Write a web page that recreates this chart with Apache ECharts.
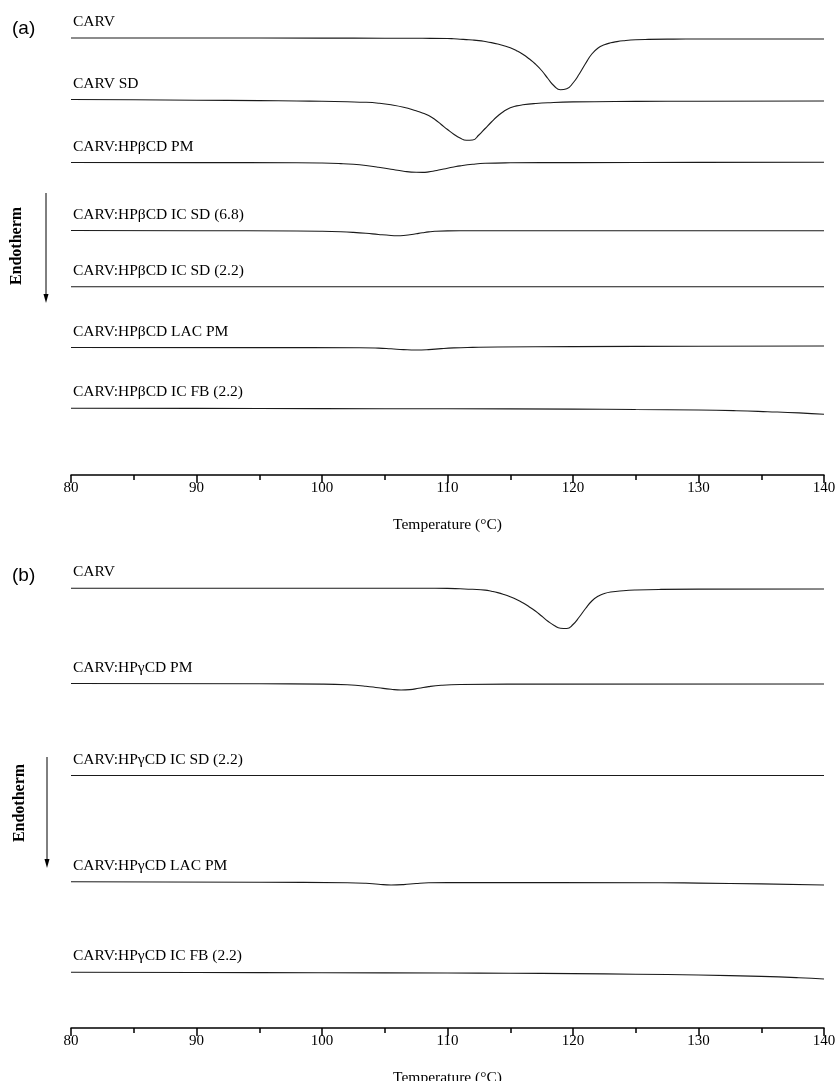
<!DOCTYPE html>
<html><head><meta charset="utf-8">
<script src="https://cdn.jsdelivr.net/npm/echarts@6/dist/echarts.min.js"></script>
<style>html,body{margin:0;padding:0;background:#fff}#c{width:837px;height:1081px}</style>
</head><body><div id="c"></div>
<script>
// ---- axis ----
const xMin = 80, xMax = 140, xStep = 10;
const xTitle = 'Temperature (°C)';

// ---- panel (a) ----
const namesA = ['CARV', 'CARV SD', 'CARV:HPβCD PM', 'CARV:HPβCD IC SD (6.8)', 'CARV:HPβCD IC SD (2.2)', 'CARV:HPβCD LAC PM', 'CARV:HPβCD IC FB (2.2)'];
const offsetsA = [43.7, 37.55, 31.25, 24.45, 18.83, 12.75, 6.67];

const tA_carv = [80, 90, 100, 105, 108, 110, 110.5, 111, 111.5, 112, 112.5, 113, 113.5, 114, 114.5, 115, 115.5, 116, 116.5, 117, 117.5, 118, 118.5, 119, 119.5, 120, 120.5, 121, 121.5, 122, 122.5, 123, 123.5, 124, 125, 126, 128, 130, 140];
const hfA_carv = [0, 0, -0.01, -0.02, -0.03, -0.05, -0.08, -0.12, -0.16, -0.2, -0.26, -0.35, -0.46, -0.6, -0.77, -0.98, -1.27, -1.63, -2.08, -2.6, -3.25, -4.05, -4.8, -5.18, -5.08, -4.5, -3.6, -2.55, -1.6, -1.0, -0.68, -0.48, -0.36, -0.28, -0.18, -0.14, -0.11, -0.1, -0.1];

const tA_sd = [80, 85, 90, 95, 98, 100, 102, 103.5, 104.5, 105.5, 106.5, 107.5, 108, 108.5, 109, 109.5, 110, 110.5, 111, 111.5, 112, 112.5, 113, 113.5, 114, 114.5, 115, 115.5, 116, 117, 118, 120, 125, 130, 140];
const hfA_sd = [0, -0.03, -0.07, -0.11, -0.15, -0.18, -0.23, -0.28, -0.37, -0.53, -0.77, -1.13, -1.34, -1.61, -2.0, -2.5, -3.0, -3.47, -3.85, -4.08, -4.05, -3.55, -2.9, -2.25, -1.65, -1.17, -0.83, -0.64, -0.53, -0.4, -0.32, -0.24, -0.19, -0.17, -0.15];

const tA_pm = [80, 90, 98, 100, 101.5, 102.5, 103.5, 104.5, 105.5, 106.5, 107.5, 108, 108.5, 109, 109.5, 110, 110.5, 111, 112, 113, 115, 120, 130, 140];
const hfA_pm = [0, -0.01, -0.02, -0.05, -0.11, -0.18, -0.3, -0.47, -0.68, -0.87, -0.98, -0.99, -0.94, -0.83, -0.7, -0.57, -0.45, -0.34, -0.18, -0.08, -0.03, -0.01, 0.01, 0.02];

const tA_icsd68 = [80, 90, 98, 100, 101.5, 102.5, 103.5, 104.5, 105.5, 106, 106.5, 107, 107.5, 108, 108.5, 109, 110, 112, 140];
const hfA_icsd68 = [0, -0.02, -0.05, -0.08, -0.13, -0.19, -0.28, -0.4, -0.5, -0.52, -0.5, -0.43, -0.33, -0.23, -0.14, -0.08, -0.04, -0.03, -0.02];

const tA_icsd22 = [80, 100, 120, 140];
const hfA_icsd22 = [0, 0, 0, 0];

const tA_lac = [80, 95, 103, 104.5, 105.5, 106.5, 107.5, 108.5, 109.5, 110.5, 112, 114, 120, 130, 140];
const hfA_lac = [0, -0.01, -0.02, -0.06, -0.13, -0.21, -0.25, -0.21, -0.11, -0.04, 0.01, 0.05, 0.09, 0.12, 0.15];

const tA_fb = [80, 90, 100, 110, 120, 125, 130, 133, 135.5, 138, 140];
const hfA_fb = [0, -0.01, -0.03, -0.05, -0.08, -0.12, -0.17, -0.24, -0.34, -0.46, -0.6];

// ---- panel (b) ----
const namesB = ['CARV', 'CARV:HPγCD PM', 'CARV:HPγCD IC SD (2.2)', 'CARV:HPγCD LAC PM', 'CARV:HPγCD IC FB (2.2)'];
const offsetsB = [43.97, 34.45, 25.25, 14.63, 5.57];

const tB_carv = [80, 100, 108, 110, 111, 112, 113, 113.5, 114, 114.5, 115, 115.5, 116, 116.5, 117, 117.5, 118, 118.5, 119, 119.5, 120, 120.5, 121, 121.5, 122, 122.5, 123, 124, 125, 127, 130, 140];
const hfB_carv = [0, 0, 0, -0.01, -0.05, -0.1, -0.18, -0.29, -0.43, -0.62, -0.85, -1.12, -1.45, -1.84, -2.27, -2.77, -3.29, -3.72, -4.0, -4.02, -3.62, -2.87, -2.02, -1.27, -0.79, -0.52, -0.37, -0.24, -0.17, -0.11, -0.08, -0.07];

const tB_pm = [80, 95, 100, 102, 103.5, 104.5, 105.5, 106.3, 107, 107.7, 108.5, 109.5, 111, 115, 140];
const hfB_pm = [0, -0.03, -0.06, -0.13, -0.27, -0.43, -0.58, -0.65, -0.61, -0.48, -0.31, -0.18, -0.1, -0.06, -0.05];

const tB_icsd = [80, 100, 120, 140];
const hfB_icsd = [0, 0, 0, 0];

const tB_lac = [80, 95, 102, 103.5, 104.5, 105.5, 106.5, 107.5, 108.5, 110, 127, 130, 135, 140];
const hfB_lac = [0, -0.05, -0.1, -0.16, -0.26, -0.33, -0.29, -0.18, -0.11, -0.09, -0.1, -0.14, -0.22, -0.33];

const tB_fb = [80, 90, 100, 110, 115, 120, 125, 130, 135, 138, 140];
const hfB_fb = [0, -0.02, -0.05, -0.07, -0.1, -0.13, -0.19, -0.27, -0.41, -0.54, -0.67];

const curvesA = [[tA_carv, hfA_carv], [tA_sd, hfA_sd], [tA_pm, hfA_pm], [tA_icsd68, hfA_icsd68], [tA_icsd22, hfA_icsd22], [tA_lac, hfA_lac], [tA_fb, hfA_fb]];
const curvesB = [[tB_carv, hfB_carv], [tB_pm, hfB_pm], [tB_icsd, hfB_icsd], [tB_lac, hfB_lac], [tB_fb, hfB_fb]];

const serif = 'Liberation Serif, Times New Roman, serif';
const chart = echarts.init(document.getElementById('c'), null, {renderer: 'canvas'});

function makeX(gi) {
  return {
    type: 'value', gridIndex: gi, min: xMin, max: xMax, interval: xStep,
    axisLine: {show: true, lineStyle: {color: '#000', width: 1.5}},
    axisTick: {show: true, inside: false, length: 8, lineStyle: {color: '#000', width: 1.5}},
    minorTick: {show: true, splitNumber: 2, length: 5, lineStyle: {color: '#000', width: 1.5}},
    splitLine: {show: false}, minorSplitLine: {show: false},
    axisLabel: {color: '#000', fontFamily: serif, fontSize: 15, margin: 6},
    name: xTitle, nameLocation: 'middle', nameGap: 42,
    nameTextStyle: {color: '#000', fontFamily: serif, fontSize: 15.5}
  };
}
function makeSeries(curves, offsets, names, gi) {
  return curves.map((c, i) => ({
    type: 'line', name: names[i], xAxisIndex: gi, yAxisIndex: gi,
    showSymbol: false, symbol: 'none', smooth: 0.5,
    lineStyle: {color: '#1a1a1a', width: 1.1},
    data: c[0].map((t, j) => [t, offsets[i] + c[1][j]]),
    silent: true, animation: false
  }));
}

chart.setOption({
  backgroundColor: '#fff',
  animation: false,
  grid: [
    {left: 71, width: 753, top: 10, height: 465, containLabel: false, outerBoundsMode: 'none'},
    {left: 71, width: 753, top: 560, height: 468, containLabel: false, outerBoundsMode: 'none'}
  ],
  xAxis: [makeX(0), makeX(1)],
  yAxis: [
    {type: 'value', gridIndex: 0, min: 0, max: 46.5, show: false},
    {type: 'value', gridIndex: 1, min: 0, max: 46.8, show: false}
  ],
  series: makeSeries(curvesA, offsetsA, namesA, 0).concat(makeSeries(curvesB, offsetsB, namesB, 1))
});

// labels positioned from data coordinates
const labelEls = [];
namesA.forEach((n, i) => {
  const p = chart.convertToPixel({gridIndex: 0}, [xMin, offsetsA[i]]);
  labelEls.push({type: 'text', x: p[0] + 2, y: p[1] - 16, style: {text: n, font: '15.5px ' + serif, fill: '#000', verticalAlign: 'middle', align: 'left'}});
});
namesB.forEach((n, i) => {
  const p = chart.convertToPixel({gridIndex: 1}, [xMin, offsetsB[i]]);
  labelEls.push({type: 'text', x: p[0] + 2, y: p[1] - 16, style: {text: n, font: '15.5px ' + serif, fill: '#000', verticalAlign: 'middle', align: 'left'}});
});

function endo(cx, cy, ax, y0, y1) {
  return [
    {type: 'text', x: cx, y: cy, rotation: Math.PI / 2, style: {text: 'Endotherm', font: 'bold 16px ' + serif, fill: '#000', align: 'center', verticalAlign: 'middle'}},
    {type: 'line', shape: {x1: ax, y1: y0, x2: ax, y2: y1 - 8}, style: {stroke: '#000', lineWidth: 1}},
    {type: 'polygon', shape: {points: [[ax - 2.5, y1 - 9], [ax + 2.5, y1 - 9], [ax, y1]]}, style: {fill: '#000'}}
  ];
}

chart.setOption({
  graphic: labelEls.concat([
    {type: 'text', x: 12, y: 29, style: {text: '(a)', font: '19px Liberation Sans, Arial, sans-serif', fill: '#000', verticalAlign: 'middle'}},
    {type: 'text', x: 12, y: 576, style: {text: '(b)', font: '19px Liberation Sans, Arial, sans-serif', fill: '#000', verticalAlign: 'middle'}}
  ]).concat(endo(17, 246, 46, 193, 303)).concat(endo(20, 803, 47, 757, 868))
});
</script>
</body></html>
